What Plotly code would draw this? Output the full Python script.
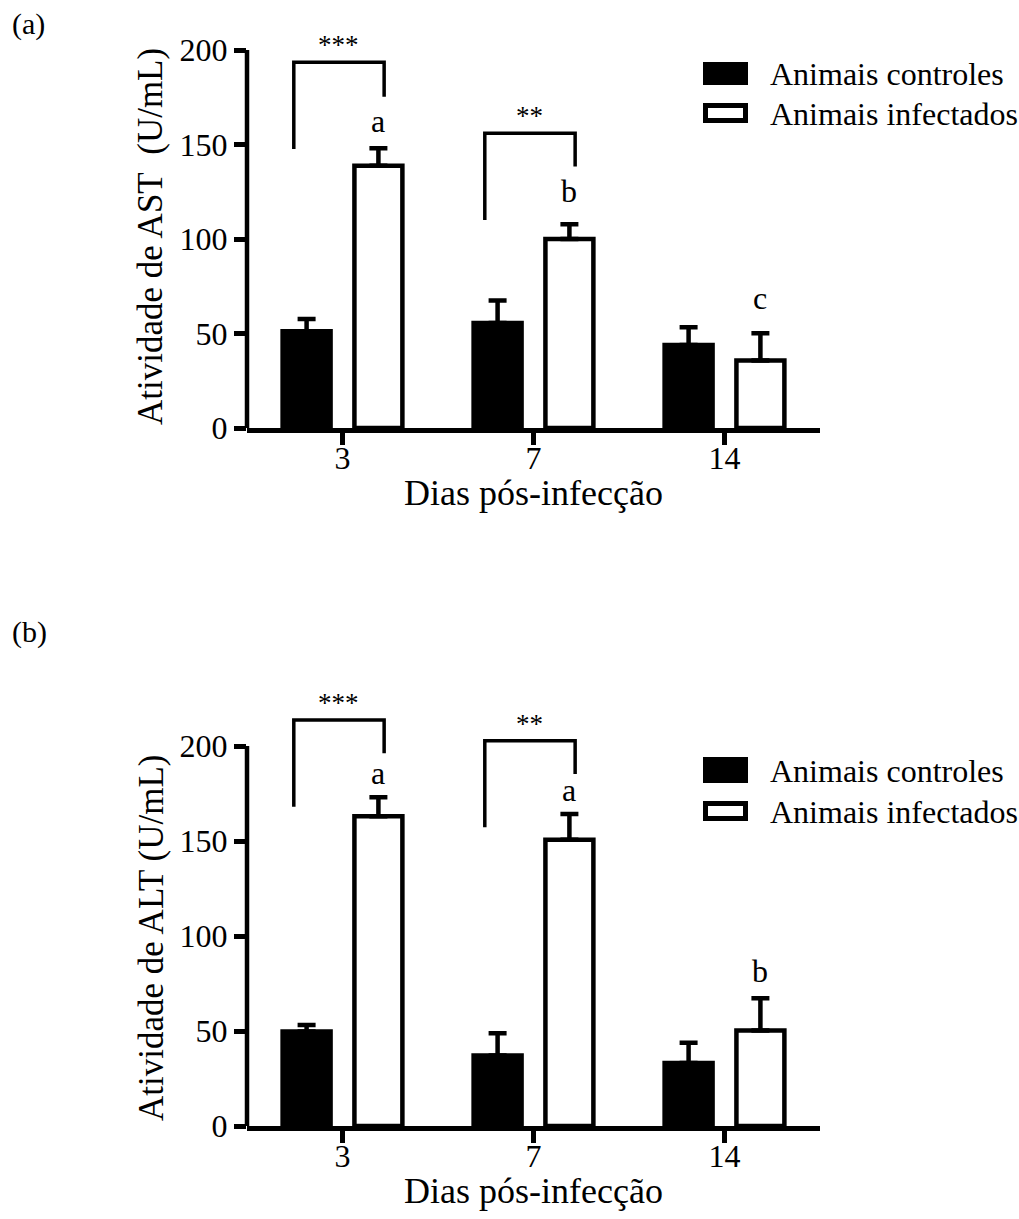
import plotly.graph_objects as go

W = 1019
REF_H = 1219          # height of the photographed picture
FIG_H = 1237          # figure height (page is squeezed to REF_H when photographed)

# ---------------- data ----------------
days = ["3", "7", "14"]

ast_ctrl = [51.2, 55.6, 43.9]
ast_ctrl_err = [6.5, 11.8, 9.4]
ast_inf = [138.8, 100.0, 35.7]
ast_inf_err = [9.2, 7.8, 14.4]

alt_ctrl = [49.7, 37.1, 33.2]
alt_ctrl_err = [3.5, 11.7, 10.6]
alt_inf = [163.0, 150.7, 50.2]
alt_inf_err = [10.0, 13.5, 17.0]

# significance brackets: category index, label, left-leg bottom, top, right-leg bottom
ast_sig_cat = [0, 1]
ast_sig_txt = ["***", "**"]
ast_sig_left = [147.6, 110.0]
ast_sig_top = [193.5, 155.9]
ast_sig_right = [175.3, 138.3]

alt_sig_cat = [0, 1]
alt_sig_txt = ["***", "**"]
alt_sig_left = [168.0, 157.2]
alt_sig_top = [213.7, 202.8]
alt_sig_right = [196.2, 185.3]

# letters above infected bars (baseline value)
ast_letters = ["a", "b", "c"]
ast_letter_y = [155.9, 119.2, 62.4]
alt_letters = ["a", "a", "b"]
alt_letter_y = [179.5, 170.7, 75.1]

yticks = [0, 50, 100, 150, 200]
legend_names = ["Animais controles", "Animais infectados"]
x_title = "Dias pós-infecção"

# ---------------- style ----------------
FONT = "Liberation Serif, Times New Roman, serif"
LW = 4.5
BAR_OFF = 0.188
BR_L, BR_R = -0.255, 0.218


def px(x):
    return x / W


def py(y):
    return 1 - y / REF_H


panels = [
    dict(ctrl=ast_ctrl, ctrl_err=ast_ctrl_err, inf=ast_inf, inf_err=ast_inf_err,
         sig=(ast_sig_cat, ast_sig_txt, ast_sig_left, ast_sig_top, ast_sig_right),
         letters=(ast_letters, ast_letter_y),
         ytitle="Atividade de AST\u00a0 (U/mL)", label="(a)", label_y=24,
         y0=428, y200=50, ytop=10, ytitle_y=237, xtitle_dy=65,
         leg_black=(703, 748, 62, 85), leg_white=(703, 748, 103, 123), leg_ty=(74, 114)),
    dict(ctrl=alt_ctrl, ctrl_err=alt_ctrl_err, inf=alt_inf, inf_err=alt_inf_err,
         sig=(alt_sig_cat, alt_sig_txt, alt_sig_left, alt_sig_top, alt_sig_right),
         letters=(alt_letters, alt_letter_y),
         ytitle="Atividade de ALT (U/mL)", label="(b)", label_y=632,
         y0=1126, y200=746, ytop=680, ytitle_y=938, xtitle_dy=65,
         leg_black=(703, 748, 757, 783), leg_white=(703, 748, 801, 821), leg_ty=(771, 812)),
]

X_LEFT, X_RIGHT = 247, 820

fig = go.Figure()
shapes = []
annotations = []
layout = dict(
    width=W, height=FIG_H, autosize=False,
    margin=dict(l=0, r=0, t=0, b=0),
    paper_bgcolor="white", plot_bgcolor="white",
    showlegend=False,
    barmode="group", bargap=0.248, bargroupgap=0.332,
    font=dict(family=FONT, color="black", size=32),
)

for k, p in enumerate(panels):
    xa = "x" if k == 0 else "x2"
    ya = "y" if k == 0 else "y2"
    xkey = "xaxis" if k == 0 else "xaxis2"
    ykey = "yaxis" if k == 0 else "yaxis2"
    ymax = 200 * (p["y0"] - p["ytop"]) / (p["y0"] - p["y200"])

    fig.add_trace(go.Bar(
        x=days, y=p["ctrl"], xaxis=xa, yaxis=ya, name=legend_names[0],
        marker=dict(color="black", line=dict(color="black", width=LW)),
        error_y=dict(type="data", array=p["ctrl_err"], arrayminus=[0] * 3,
                     symmetric=False, color="black", thickness=LW, width=9),
    ))
    fig.add_trace(go.Bar(
        x=days, y=p["inf"], xaxis=xa, yaxis=ya, name=legend_names[1],
        marker=dict(color="white", line=dict(color="black", width=LW)),
        error_y=dict(type="data", array=p["inf_err"], arrayminus=[0] * 3,
                     symmetric=False, color="black", thickness=LW, width=9),
    ))

    layout[xkey] = dict(
        domain=[px(X_LEFT), px(X_RIGHT)], anchor=ya, type="category",
        range=[-0.5, 2.5], showline=True, linewidth=LW, linecolor="black",
        ticks="outside", ticklen=12, tickwidth=LW, tickcolor="black",
        tickfont=dict(family=FONT, size=32, color="black"),
        ticklabelstandoff=-14,
        showgrid=False, zeroline=False, fixedrange=True,
    )
    layout[ykey] = dict(
        domain=[py(p["y0"]), py(p["ytop"])], anchor=xa,
        range=[0, ymax], showline=False,
        tickvals=yticks, ticktext=[str(v) for v in yticks],
        ticks="outside", ticklen=12, tickwidth=LW, tickcolor="black",
        tickfont=dict(family=FONT, size=32, color="black"),
        showgrid=False, zeroline=False, fixedrange=True,
    )

    # y axis line from 0 to 200 only
    shapes.append(dict(type="line", xref=f"{xa} domain", yref=ya,
                       x0=0, x1=0, y0=0, y1=200,
                       line=dict(color="black", width=LW)))

    # significance brackets
    cats, txts, lefts, tops, rights = p["sig"]
    for c, t, l, tp, r in zip(cats, txts, lefts, tops, rights):
        path = (f"M {c + BR_L},{l} L {c + BR_L},{tp} "
                f"L {c + BR_R},{tp} L {c + BR_R},{r}")
        shapes.append(dict(type="path", xref=xa, yref=ya, path=path,
                           line=dict(color="black", width=3.5)))
        annotations.append(dict(
            x=c + (BR_L + BR_R) / 2, y=tp, xref=xa, yref=ya, text=t,
            showarrow=False, xanchor="center", yanchor="bottom",
            font=dict(family=FONT, size=27, color="black"),
        ))

    # letters
    lets, lys = p["letters"]
    for i, (t, v) in enumerate(zip(lets, lys)):
        annotations.append(dict(
            x=i + BAR_OFF, y=v, xref=xa, yref=ya, text=t,
            showarrow=False, xanchor="center", yanchor="bottom", yshift=-8,
            font=dict(family=FONT, size=32, color="black"),
        ))

    # x title
    annotations.append(dict(
        x=px((X_LEFT + X_RIGHT) / 2), y=py(p["y0"] + p["xtitle_dy"]),
        xref="paper", yref="paper",
        text=x_title, showarrow=False, xanchor="center", yanchor="middle",
        font=dict(family=FONT, size=36, color="black"),
    ))
    # y title
    annotations.append(dict(
        x=px(151), y=py(p["ytitle_y"]), xref="paper", yref="paper",
        text=p["ytitle"], textangle=-90, showarrow=False,
        xanchor="center", yanchor="middle",
        font=dict(family=FONT, size=35, color="black"),
    ))
    # panel label
    annotations.append(dict(
        x=px(10), y=py(p["label_y"]), xref="paper", yref="paper",
        text=p["label"], showarrow=False, xanchor="left", yanchor="middle",
        font=dict(family=FONT, size=30, color="black"),
    ))

    # legend
    bx0, bx1, by0, by1 = p["leg_black"]
    shapes.append(dict(type="rect", xref="paper", yref="paper",
                       x0=px(bx0), x1=px(bx1), y0=py(by1), y1=py(by0),
                       fillcolor="black", line=dict(width=0)))
    wx0, wx1, wy0, wy1 = p["leg_white"]
    h = 2.5
    shapes.append(dict(type="rect", xref="paper", yref="paper",
                       x0=px(wx0 + h), x1=px(wx1 - h), y0=py(wy1 - h), y1=py(wy0 + h),
                       fillcolor="white", line=dict(width=5, color="black")))
    for name, ty in zip(legend_names, p["leg_ty"]):
        annotations.append(dict(
            x=px(768), y=py(ty), xref="paper", yref="paper", text=name,
            showarrow=False, xanchor="left", yanchor="middle",
            font=dict(family=FONT, size=32, color="black"),
        ))

layout["shapes"] = shapes
layout["annotations"] = annotations
fig.update_layout(**layout)

fig.write_html(
    "out.html",
    config={"displayModeBar": False},
    post_script=("document.documentElement.style.margin='0';"
                 "document.body.style.margin='0';"),
)
